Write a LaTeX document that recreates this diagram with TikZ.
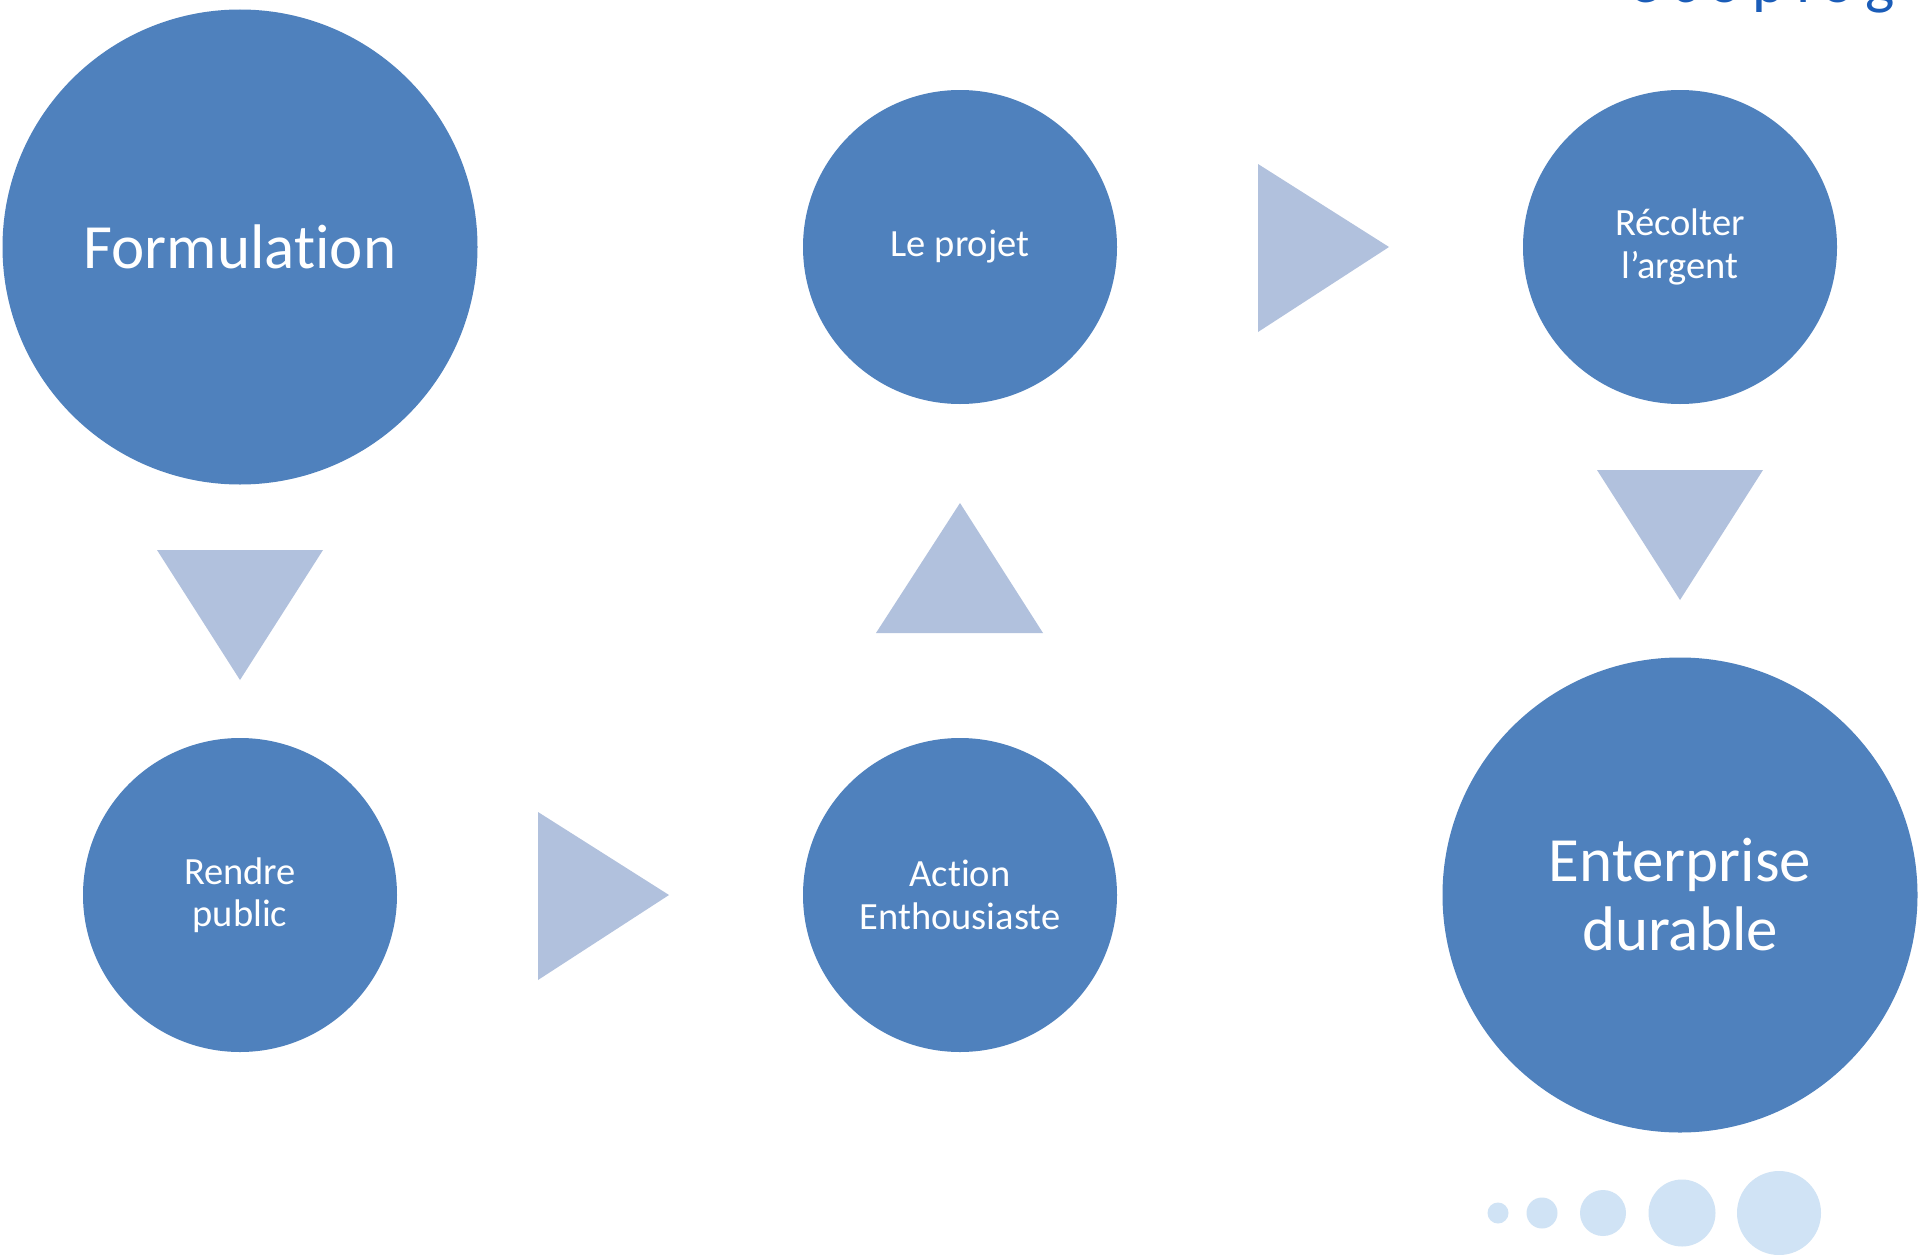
\documentclass[tikz,border=0pt]{standalone}
\usepackage{fontspec}
\setmainfont{Carlito}[Ligatures=NoCommon]
\definecolor{cblue}{RGB}{79,129,189}
\definecolor{ctri}{RGB}{177,193,221}
\definecolor{cdot}{RGB}{208,227,245}
\definecolor{ctitle}{RGB}{26,92,184}
\tikzset{
  bigc/.style={circle, fill=cblue, minimum size=475pt, inner sep=0pt, text=white, align=center, font=\fontsize{63}{69}\selectfont},
  midc/.style={circle, fill=cblue, minimum size=314pt, inner sep=0pt, text=white, align=center, font=\fontsize{38.5}{42.5}\selectfont},
  tri/.style={fill=ctri},
  dot/.style={circle, fill=cdot, inner sep=0pt}
}
\begin{document}
\begin{tikzpicture}[x=1pt,y=-1pt]
\useasboundingbox[fill=white] (0,0) rectangle (1920,1255);
\begin{scope}
\clip (0,0) rectangle (1920,1255);
\node[anchor=base east, inner sep=0pt, text=ctitle, font=\fontsize{62}{66}\selectfont\addfontfeature{LetterSpace=18}] (title) at (1895,3) {ecoplog};
\end{scope}
\node[bigc] (form) at (240,247) {Formulation};
\node[midc] (projet) at (960,247) {Le projet};
\node[midc] (recolter) at (1680,247) {Récolter\\l’argent};
\node[midc] (rendre) at (240,895) {Rendre\\public};
\node[midc] (action) at (960,895) {Action\\Enthousiaste};
\node[bigc] (ent) at (1680,895) {Enterprise\\durable};
% arrows
\fill[tri] (157,550) -- (323,550) -- (240,680) -- cycle;
\fill[tri] (538,812) -- (669,895) -- (538,980) -- cycle;
\fill[tri] (876,633) -- (960,503) -- (1043,633) -- cycle;
\fill[tri] (1258,164) -- (1389,247) -- (1258,332) -- cycle;
\fill[tri] (1597,470) -- (1763,470) -- (1680,600) -- cycle;
% dots
\node[dot, minimum size=21pt] (d1) at (1498,1213) {};
\node[dot, minimum size=31pt] (d2) at (1542,1213) {};
\node[dot, minimum size=46pt] (d3) at (1603,1213) {};
\node[dot, minimum size=67pt] (d4) at (1682,1213) {};
\node[dot, minimum size=84pt] (d5) at (1779,1213) {};
\end{tikzpicture}
\end{document}
